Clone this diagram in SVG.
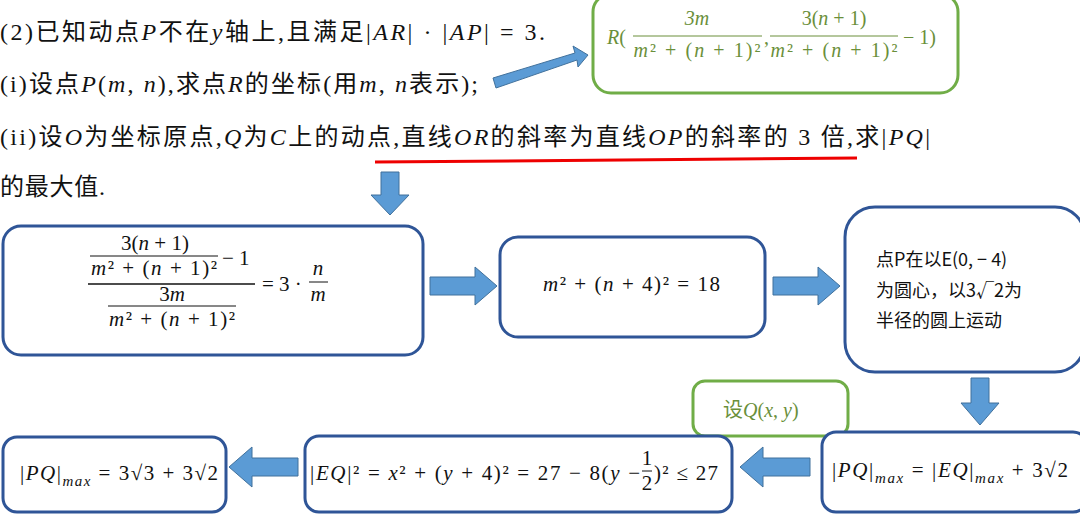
<svg xmlns="http://www.w3.org/2000/svg" width="1080" height="518" viewBox="0 0 1080 518">
<style>
.t{font-family:"Liberation Serif","Noto Sans CJK SC",serif;font-size:24px;fill:#111}
.m{font-family:"Liberation Serif","Noto Sans CJK SC",serif;font-size:21px;fill:#111}
.g{font-family:"Liberation Serif","Noto Sans CJK SC",serif;font-size:20px;fill:#6a8f3a}
.c{font-family:"Noto Sans CJK SC",sans-serif;font-size:18px;fill:#111}
.nb{fill:#fff;stroke:#2f5597;stroke-width:3}
.gb{fill:#fff;stroke:#70ad47;stroke-width:3}
.ar{fill:#5b9bd5;stroke:#41719c;stroke-width:1}
</style>
<rect width="1080" height="518" fill="#fff"/>
<g id="question">
<text class="t" x="0" y="40" textLength="545" lengthAdjust="spacing">(2)已知动点<tspan font-style="italic">P</tspan>不在<tspan font-style="italic">y</tspan>轴上,且满足|<tspan font-style="italic">AR</tspan>| · |<tspan font-style="italic">AP</tspan>| = 3.</text>
<text class="t" x="0" y="92" textLength="478" lengthAdjust="spacing">(i)设点<tspan font-style="italic">P</tspan>(<tspan font-style="italic">m</tspan>, <tspan font-style="italic">n</tspan>),求点<tspan font-style="italic">R</tspan>的坐标(用<tspan font-style="italic">m</tspan>, <tspan font-style="italic">n</tspan>表示);</text>
<text class="t" x="0" y="145" textLength="930" lengthAdjust="spacing">(ii)设<tspan font-style="italic">O</tspan>为坐标原点,<tspan font-style="italic">Q</tspan>为<tspan font-style="italic">C</tspan>上的动点,直线<tspan font-style="italic">OR</tspan>的斜率为直线<tspan font-style="italic">OP</tspan>的斜率的 3 倍,求|<tspan font-style="italic">PQ</tspan>|</text>
<text class="t" x="0" y="195" textLength="105" lengthAdjust="spacing">的最大值.</text>
<line x1="375" y1="162" x2="857" y2="158" stroke="#e00" stroke-width="3"/>
</g>
<g id="nodeR">
<rect class="gb" x="593" y="-6" width="365" height="99" rx="18"/>
<text class="g" x="607" y="44"><tspan font-style="italic">R</tspan>(</text>
<text class="g" x="697" y="25" text-anchor="middle" font-style="italic">3m</text>
<line x1="633" y1="36" x2="762" y2="36" stroke="#6a8f3a" stroke-width="1"/>
<text class="g" x="697" y="57" text-anchor="middle" textLength="127" lengthAdjust="spacing"><tspan font-style="italic">m</tspan>² + (<tspan font-style="italic">n</tspan> + 1)²</text>
<text class="g" x="764" y="44">,</text>
<text class="g" x="834" y="25" text-anchor="middle">3(<tspan font-style="italic">n</tspan> + 1)</text>
<line x1="770" y1="36" x2="898" y2="36" stroke="#6a8f3a" stroke-width="1"/>
<text class="g" x="834" y="57" text-anchor="middle" textLength="127" lengthAdjust="spacing"><tspan font-style="italic">m</tspan>² + (<tspan font-style="italic">n</tspan> + 1)²</text>
<text class="g" x="903" y="44">− 1)</text>
</g>
<g id="n1">
<rect class="nb" x="3" y="226" width="420" height="129" rx="18"/>
<text class="m" x="155" y="250" text-anchor="middle">3(<tspan font-style="italic">n</tspan> + 1)</text>
<line x1="90" y1="256" x2="218" y2="256" stroke="#111"/>
<text class="m" x="154" y="275" text-anchor="middle" textLength="126" lengthAdjust="spacing"><tspan font-style="italic">m</tspan>² + (<tspan font-style="italic">n</tspan> + 1)²</text>
<text class="m" x="222" y="265">− 1</text>
<line x1="88" y1="284" x2="255" y2="284" stroke="#111" stroke-width="1.3"/>
<text class="m" x="172" y="301" text-anchor="middle">3<tspan font-style="italic">m</tspan></text>
<line x1="108" y1="306" x2="236" y2="306" stroke="#111"/>
<text class="m" x="172" y="326" text-anchor="middle" textLength="126" lengthAdjust="spacing"><tspan font-style="italic">m</tspan>² + (<tspan font-style="italic">n</tspan> + 1)²</text>
<text class="m" x="262" y="291">= 3 ·</text>
<text class="m" x="318" y="275" text-anchor="middle" font-style="italic">n</text>
<line x1="309" y1="282" x2="328" y2="282" stroke="#111"/>
<text class="m" x="318" y="301" text-anchor="middle" font-style="italic">m</text>
</g>
<g id="n2">
<rect class="nb" x="500" y="237" width="265" height="100" rx="18"/>
<text class="m" x="543" y="291" textLength="177" lengthAdjust="spacing"><tspan font-style="italic">m</tspan>² + (<tspan font-style="italic">n</tspan> + 4)² = 18</text>
</g>
<g id="n3">
<rect class="nb" x="845" y="207" width="240" height="165" rx="30"/>
<text class="c" x="876" y="266">点P在以E(0, − 4)</text>
<text class="c" x="876" y="297">为圆心，以3√2为</text>
<text class="c" x="876" y="327">半径的圆上运动</text>
</g>
<g id="nQ">
<rect class="gb" x="693" y="381" width="155" height="55" rx="12"/>
<text class="g" x="723" y="417">设<tspan font-style="italic">Q</tspan>(<tspan font-style="italic">x</tspan>, <tspan font-style="italic">y</tspan>)</text>
</g>
<g id="n4">
<rect class="nb" x="822" y="432" width="265" height="80" rx="14"/>
<text class="m" x="832" y="477" textLength="236" lengthAdjust="spacing">|<tspan font-style="italic">PQ</tspan>|<tspan font-size="15" dy="6" font-style="italic">max</tspan><tspan dy="-6"> = |</tspan><tspan font-style="italic">EQ</tspan>|<tspan font-size="15" dy="6" font-style="italic">max</tspan><tspan dy="-6"> + 3√2</tspan></text>
</g>
<g id="n5">
<rect class="nb" x="305" y="436" width="427" height="76" rx="14"/>
<text class="m" x="310" y="480" textLength="330" lengthAdjust="spacing">|<tspan font-style="italic">EQ</tspan>|² = <tspan font-style="italic">x</tspan>² + (<tspan font-style="italic">y</tspan> + 4)² = 27 − 8(<tspan font-style="italic">y</tspan> −</text>
<text class="m" x="647" y="465" text-anchor="middle" font-size="15">1</text>
<line x1="642" y1="471" x2="652" y2="471" stroke="#111"/>
<text class="m" x="647" y="490" text-anchor="middle" font-size="15">2</text>
<text class="m" x="654" y="480" textLength="64" lengthAdjust="spacing">)² ≤ 27</text>
</g>
<g id="n6">
<rect class="nb" x="3" y="437" width="223" height="75" rx="14"/>
<text class="m" x="20" y="480" textLength="198" lengthAdjust="spacing">|<tspan font-style="italic">PQ</tspan>|<tspan font-size="15" dy="6" font-style="italic">max</tspan><tspan dy="-6"> = 3√3 + 3√2</tspan></text>
</g>
<g id="connectors">
<polygon class="ar" points="493,78 575,53 573,46 588,55 578,67 577,60 496,88"/>
<polygon class="ar" points="381,172 399,172 399,195 409,195 390,215 371,195 381,195"/>
<polygon class="ar" points="430,277 475,277 475,267 497,286 475,305 475,295 430,295"/>
<polygon class="ar" points="773,277 818,277 818,267 840,286 818,305 818,295 773,295"/>
<polygon class="ar" points="971,378 989,378 989,403 999,403 980,425 961,403 971,403"/>
<polygon class="ar" points="810,458 763,458 763,447 740,467 763,487 763,476 810,476"/>
<polygon class="ar" points="298,458 252,458 252,447 229,467 252,487 252,476 298,476"/>
</g>
</svg>
